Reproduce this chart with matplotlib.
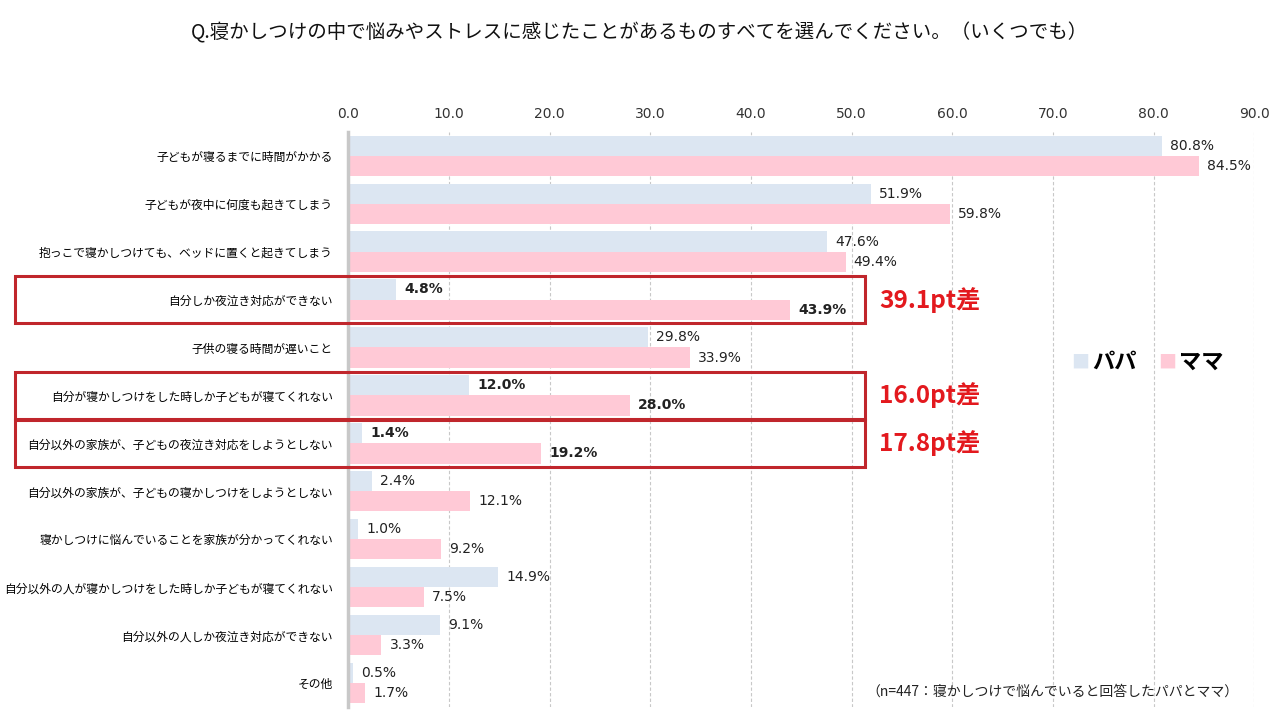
import matplotlib
matplotlib.use("Agg")
from matplotlib import pyplot as plt
from matplotlib.patches import Rectangle
from matplotlib.transforms import blended_transform_factory
import numpy as np

plt.rcParams['font.family'] = ['Noto Sans CJK JP', 'DejaVu Sans']

# data
categories = [
    "子どもが寝るまでに時間がかかる",
    "子どもが夜中に何度も起きてしまう",
    "抱っこで寝かしつけても、ベッドに置くと起きてしまう",
    "自分しか夜泣き対応ができない",
    "子供の寝る時間が遅いこと",
    "自分が寝かしつけをした時しか子どもが寝てくれない",
    "自分以外の家族が、子どもの夜泣き対応をしようとしない",
    "自分以外の家族が、子どもの寝かしつけをしようとしない",
    "寝かしつけに悩んでいることを家族が分かってくれない",
    "自分以外の人が寝かしつけをした時しか子どもが寝てくれない",
    "自分以外の人しか夜泣き対応ができない",
    "その他",
]
papa = [80.8, 51.9, 47.6, 4.8, 29.8, 12.0, 1.4, 2.4, 1.0, 14.9, 9.1, 0.5]
mama = [84.5, 59.8, 49.4, 43.9, 33.9, 28.0, 19.2, 12.1, 9.2, 7.5, 3.3, 1.7]
highlight = [3, 5, 6]
gap_labels = ["39.1pt差", "16.0pt差", "17.8pt差"]

title = "Q.寝かしつけの中で悩みやストレスに感じたことがあるものすべてを選んでください。（いくつでも）"
note = "（n=447：寝かしつけで悩んでいると回答したパパとママ）"

c_papa = "#DCE6F2"
c_mama = "#FFC9D6"
c_box = "#C0262C"
c_gap = "#E3191E"
num_font = ['DejaVu Sans']

fig = plt.figure(figsize=(12.8, 7.2), dpi=100)
ax = fig.add_axes([0.272, 0.018, 0.708, 0.799])

y = np.arange(len(categories))
h = 0.42
ax.barh(y - h / 2, papa, height=h, color=c_papa, zorder=2)
ax.barh(y + h / 2, mama, height=h, color=c_mama, zorder=2)

ax.set_xlim(0, 90)
ax.set_ylim(len(categories) - 0.5, -0.5)
ax.set_xticks(np.arange(0, 91, 10))
ax.set_xticklabels([f"{v:.1f}" for v in np.arange(0, 91, 10)], family=num_font)
ax.xaxis.tick_top()
ax.tick_params(axis='x', length=0, labelsize=10, pad=8, colors="#333333")
ax.set_yticks(y)
ax.set_yticklabels(categories, fontsize=8.5)
ax.tick_params(axis='y', length=0, pad=11)
ax.grid(axis='x', color="#C8C8C8", linestyle=(0, (3, 2)), linewidth=0.8, zorder=0)
for s in ["top", "right", "bottom"]:
    ax.spines[s].set_visible(False)
ax.spines["left"].set_color("#C8C8C8")
ax.spines["left"].set_linewidth(2.5)
ax.spines["left"].set_zorder(3)

for i in range(len(categories)):
    fw = "bold" if i in highlight else "normal"
    ax.text(papa[i] + 0.8, y[i] - h / 2, f"{papa[i]:.1f}%", va="center", ha="left",
            fontsize=10, fontweight=fw, color="#222222", family=num_font, zorder=4)
    ax.text(mama[i] + 0.8, y[i] + h / 2, f"{mama[i]:.1f}%", va="center", ha="left",
            fontsize=10, fontweight=fw, color="#222222", family=num_font, zorder=4)

# red highlight boxes (x in figure coords, y in data coords)
tr = blended_transform_factory(fig.transFigure, ax.transData)
for idx, lab in zip(highlight, gap_labels):
    rect = Rectangle((0.012, idx - 0.49), 0.664, 0.98, transform=tr, fill=False,
                     edgecolor=c_box, linewidth=2.2, clip_on=False, zorder=5)
    fig.add_artist(rect)
    fig.text(0.687, idx, lab, transform=tr, color=c_gap, fontsize=17.5,
             fontweight="bold", va="center", ha="left")

# legend
lx = 0.837
fig.text(lx, 0.497, "■", color=c_papa, fontsize=13, va="center", ha="left")
fig.text(lx + 0.016, 0.497, "パパ", color="black", fontsize=16, fontweight="bold", va="center", ha="left")
fig.text(lx + 0.068, 0.497, "■", color=c_mama, fontsize=13, va="center", ha="left")
fig.text(lx + 0.084, 0.497, "ママ", color="black", fontsize=16, fontweight="bold", va="center", ha="left")

fig.text(0.5, 0.955, title, fontsize=14, ha="center", va="center", color="#111111")
fig.text(0.677, 0.040, note, fontsize=10, ha="left", va="center", color="#222222")

fig.savefig("out.png", dpi=100, facecolor="white")
